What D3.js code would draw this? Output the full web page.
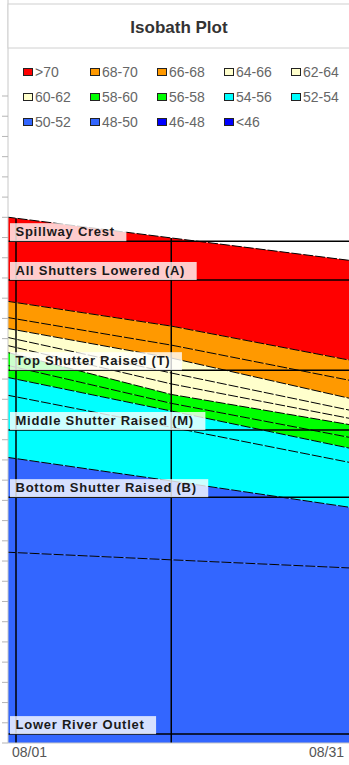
<!DOCTYPE html>
<html>
<head>
<meta charset="utf-8">
<script src="https://cdn.jsdelivr.net/npm/d3@7"></script>
<style>
  body { margin: 0; background: #fff; }
  svg { display: block; font-family: "Liberation Sans", Arial, sans-serif; }
</style>
</head>
<body>
<svg id="chart" width="349" height="765"></svg>
<script>
// Sampling dates for the isotherm profiles
const dates = ["2023-07-31", "2023-08-16", "2023-09-03"];

// Elevation (ft) of the water surface and of each isotherm (°F) on those dates
const surface = [1330.1, 1324.9, 1319.1];
const iso70 = [1309.3, 1303.1, 1294.3];
const iso68 = [1305.3, 1298.4, 1289.3];
const iso66 = [1302.6, 1295.2, 1284.8];
const iso64 = [1300.4, 1291.5, 1281.9];
const iso62 = [1298.4, 1288.8, 1279.9];
const iso60 = [1296.7, 1286.2, 1278.4];
const iso58 = [1293.5, 1284.0, 1275.2];
const iso56 = [1290.5, 1282.1, 1272.5];
const iso54 = [1286.1, 1278.1, 1269.0];
const iso52 = [1270.7, 1264.8, 1258.0];
const iso50 = [1247.2, 1245.3, 1243.2];

// Temperature classes (legend order) and their fill colours
const classes = [">70", "68-70", "66-68", "64-66", "62-64", "60-62", "58-60",
                 "56-58", "54-56", "52-54", "50-52", "48-50", "46-48", "<46"];
const classColors = ["#ff0000", "#ff9900", "#ff9900", "#ffffcc", "#ffffcc", "#ffffcc", "#00ff00",
                     "#00ff00", "#00ffff", "#00ffff", "#3366ff", "#3366ff", "#0000ff", "#0000ff"];

// Outlet / shutter structure elevations (ft)
const levelNames = ["Spillway Crest", "All Shutters Lowered (A)", "Top Shutter Raised (T)",
                    "Middle Shutter Raised (M)", "Bottom Shutter Raised (B)", "Lower River Outlet"];
const levelElev = [1324.1, 1314.5, 1292.2, 1277.4, 1260.8, 1202.2];

// Date gridlines and axis labels
const gridDates = ["2023-08-01", "2023-08-16"];
const tickDates = ["2023-08-01", "2023-08-31"];
const tickLabels = ["08/01", "08/31"];

// Vertical extent of the elevation axis (ft) and its tick step
const elevMin = 1200, elevMax = 1360, elevStep = 5;

const parse = d3.timeParse("%Y-%m-%d");
const svg = d3.select("#chart");

const plot = { left: 8, right: 349, top: 96, bottom: 743 };

const x = d3.scaleTime()
  .domain([parse("2023-08-01"), parse("2023-08-31")])
  .range([16, 326.5]);
const y = d3.scaleLinear().domain([elevMin, elevMax]).range([plot.bottom, plot.top]);

// Bands: top boundary, bottom boundary (null = bottom of the axis)
const bounds = [surface, iso70, iso68, iso66, iso64, iso62, iso60, iso58, iso56, iso54, iso52, iso50];
const bands = bounds.map((top, i) => ({
  name: classes[i],
  color: classColors[i],
  top,
  bottom: i + 1 < bounds.length ? bounds[i + 1] : null
}));

const t = dates.map(parse);

svg.append("defs").append("clipPath").attr("id", "plotClip")
  .append("rect")
  .attr("x", plot.left).attr("y", 0)
  .attr("width", plot.right - plot.left).attr("height", plot.bottom);

const g = svg.append("g").attr("clip-path", "url(#plotClip)");

const area = d3.area()
  .x(d => x(d.t))
  .y0(d => y(d.lo))
  .y1(d => y(d.hi));

g.selectAll("path.band")
  .data(bands)
  .join("path")
  .attr("class", "band")
  .attr("fill", d => d.color)
  .attr("d", d => area(t.map((tt, j) => ({
    t: tt, hi: d.top[j], lo: d.bottom ? d.bottom[j] : elevMin
  }))));

// Isotherm boundary lines
const line = d3.line().x(d => x(d.t)).y(d => y(d.v));
g.selectAll("path.iso")
  .data(bounds)
  .join("path")
  .attr("class", "iso")
  .attr("fill", "none")
  .attr("stroke", "#000")
  .attr("stroke-width", 1)
  .attr("stroke-dasharray", "10,2")
  .attr("d", b => line(t.map((tt, j) => ({ t: tt, v: b[j] }))));

// Structure elevation lines
g.selectAll("line.level")
  .data(levelElev)
  .join("line")
  .attr("class", "level")
  .attr("x1", plot.left).attr("x2", plot.right)
  .attr("y1", d => y(d)).attr("y2", d => y(d))
  .attr("stroke", "#000")
  .attr("stroke-width", 1.5);

// Surface elevation at an arbitrary date (linear between samples)
function surfaceAt(date) {
  const ms = date.getTime();
  for (let j = 0; j < t.length - 1; j++) {
    const a = t[j].getTime(), b = t[j + 1].getTime();
    if (ms >= a && ms <= b) {
      const f = (ms - a) / (b - a);
      return surface[j] + f * (surface[j + 1] - surface[j]);
    }
  }
  return surface[surface.length - 1];
}

// Date gridlines from the water surface down
g.selectAll("line.vgrid")
  .data(gridDates.map(parse))
  .join("line")
  .attr("class", "vgrid")
  .attr("x1", d => x(d)).attr("x2", d => x(d))
  .attr("y1", d => y(surfaceAt(d))).attr("y2", plot.bottom)
  .attr("stroke", "#000")
  .attr("stroke-width", 1.5);

// Structure labels on translucent boxes
const labels = svg.append("g");
levelNames.forEach((name, i) => {
  const ly = y(levelElev[i]);
  const box = labels.append("rect")
    .attr("x", 10).attr("y", ly - 18).attr("height", 18)
    .attr("fill", "#fff").attr("fill-opacity", 0.8);
  const txt = labels.append("text")
    .attr("x", 15.5).attr("y", ly - 5)
    .attr("font-size", 13).attr("font-weight", "bold")
    .attr("letter-spacing", 0.75)
    .attr("fill", "#1a1a1a")
    .text(name);
  const w = txt.node().getComputedTextLength();
  box.attr("width", w + 17);
});

// Elevation axis (unlabelled ticks)
const yAxis = svg.append("g");
yAxis.append("line")
  .attr("x1", plot.left).attr("x2", plot.left)
  .attr("y1", 0).attr("y2", plot.bottom)
  .attr("stroke", "#c8c8c8");
yAxis.selectAll("line.tick")
  .data(d3.range(elevMin, elevMax + 0.001, elevStep))
  .join("line")
  .attr("class", "tick")
  .attr("x1", 2).attr("x2", plot.left)
  .attr("y1", d => y(d)).attr("y2", d => y(d))
  .attr("stroke", "#b5b5b5");

// Date axis
svg.append("line")
  .attr("x1", plot.left).attr("x2", plot.right)
  .attr("y1", plot.bottom).attr("y2", plot.bottom)
  .attr("stroke", "#c8c8c8");
svg.selectAll("text.xtick")
  .data(tickDates.map(parse))
  .join("text")
  .attr("class", "xtick")
  .attr("x", (d, i) => i === 0 ? 12 : x(d))
  .attr("y", 757)
  .attr("text-anchor", (d, i) => i === 0 ? "start" : "middle")
  .attr("font-size", 14)
  .attr("fill", "#555")
  .text((d, i) => tickLabels[i]);

// Title box
svg.append("rect")
  .attr("x", plot.left).attr("y", 4)
  .attr("width", 360).attr("height", 44)
  .attr("fill", "#fff").attr("stroke", "#d0d0d0");
svg.append("text")
  .attr("x", 179).attr("y", 33)
  .attr("text-anchor", "middle")
  .attr("font-size", 17).attr("font-weight", "bold")
  .attr("fill", "#333")
  .text("Isobath Plot");

// Legend
const legend = svg.append("g");
classes.forEach((c, i) => {
  const col = i % 5, row = Math.floor(i / 5);
  const lx = 23 + col * 67, ly = 68 + row * 25;
  legend.append("rect")
    .attr("x", lx + 0.5).attr("y", ly + 0.5)
    .attr("width", 9).attr("height", 7)
    .attr("fill", classColors[i]).attr("stroke", "#222");
  legend.append("text")
    .attr("x", lx + 12).attr("y", ly + 9)
    .attr("font-size", 14).attr("fill", "#666")
    .text(c);
});
</script>
</body>
</html>
